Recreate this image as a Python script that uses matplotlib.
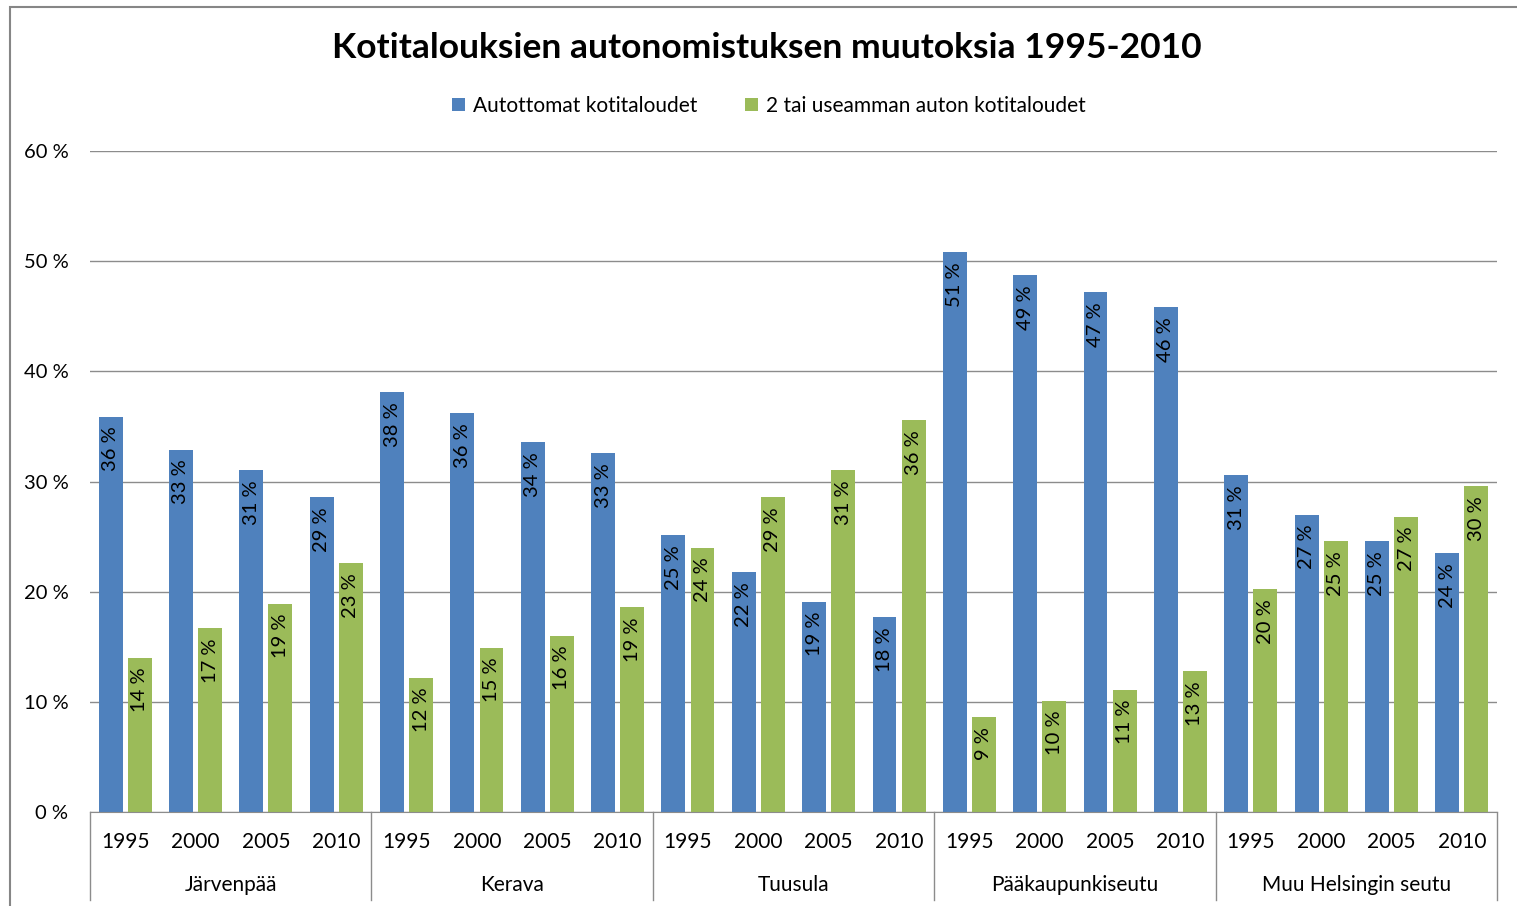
import numpy as np
import matplotlib.pyplot as plt
from matplotlib.patches import Rectangle
from matplotlib.ticker import FuncFormatter

plt.rcParams['font.family'] = ['Lato', 'DejaVu Sans']

groups = ["Järvenpää", "Kerava", "Tuusula", "Pääkaupunkiseutu", "Muu Helsingin seutu"]
years = ["1995", "2000", "2005", "2010"]

# osuudet prosentteina
autottomat = [35.9, 32.9, 31.0, 28.6,
              38.1, 36.2, 33.6, 32.6,
              25.1, 21.8, 19.1, 17.7,
              50.8, 48.7, 47.2, 45.8,
              30.6, 27.0, 24.6, 23.5]
useampi = [14.0, 16.7, 18.9, 22.6,
           12.2, 14.9, 16.0, 18.6,
           24.0, 28.6, 31.0, 35.6,
           8.6, 10.1, 11.1, 12.8,
           20.2, 24.6, 26.8, 29.6]

BLUE = "#4F81BD"
GREEN = "#9BBB59"

fig = plt.figure(figsize=(15.17, 9.06), dpi=100)
ax = fig.add_axes([90 / 1517, 1 - 812 / 906, 1407 / 1517, 661 / 906])

# kehys koko kuvan ympärille
fig.patches.append(Rectangle((10 / 1517, -0.01), 1.0, 1 - 7 / 906 + 0.01,
                             transform=fig.transFigure, fill=False,
                             edgecolor="#868686", linewidth=1.5))

x = np.arange(len(autottomat))
w = 0.34
off = 0.207
b1 = ax.bar(x - off, autottomat, w, color=BLUE, label="Autottomat kotitaloudet", zorder=2)
b2 = ax.bar(x + off, useampi, w, color=GREEN, label="2 tai useamman auton kotitaloudet", zorder=2)

for bars, vals in ((b1, autottomat), (b2, useampi)):
    for rect, v in zip(bars, vals):
        ax.annotate(f"{v:.0f} %", (rect.get_x() + rect.get_width() / 2, v),
                    xytext=(0, -10), textcoords="offset pixels",
                    rotation=90, ha="center", va="top", fontsize=14.5, color="black", zorder=3)

ax.set_ylim(0, 60)
ax.set_xlim(-0.5, len(autottomat) - 0.5)
ax.set_yticks(range(0, 61, 10))
ax.yaxis.set_major_formatter(FuncFormatter(lambda v, p: f"{v:.0f} %"))
ax.tick_params(axis="y", length=0, pad=15.5, labelsize=14.5)
ax.set_xticks([])
ax.grid(axis="y", color="#8c8c8c", linewidth=1, zorder=0)
for s in ("left", "right", "top"):
    ax.spines[s].set_visible(False)
ax.spines["bottom"].set_color("#8c8c8c")

# kaksitasoinen luokka-akseli
trans = ax.get_xaxis_transform()
for i in x:
    ax.text(i, -0.045, years[i % 4], transform=trans, ha="center", va="center", fontsize=15)
for g, name in enumerate(groups):
    ax.text(g * 4 + 1.5, -0.111, name, transform=trans, ha="center", va="center", fontsize=15)
for b in range(len(groups) + 1):
    ax.plot([b * 4 - 0.5] * 2, [0, -0.133], transform=trans, color="#8c8c8c",
            linewidth=1, clip_on=False)

fig.text(767 / 1517, 1 - 48 / 906, "Kotitalouksien autonomistuksen muutoksia 1995-2010",
         ha="center", va="center", fontsize=25.5, fontweight="bold")
fig.legend(loc="center", bbox_to_anchor=(769 / 1517, 1 - 106 / 906), ncol=2, frameon=False,
           fontsize=15, handlelength=0.6, handleheight=0.6, columnspacing=2.3, handletextpad=0.4)

fig.savefig("out.png", dpi=100)
